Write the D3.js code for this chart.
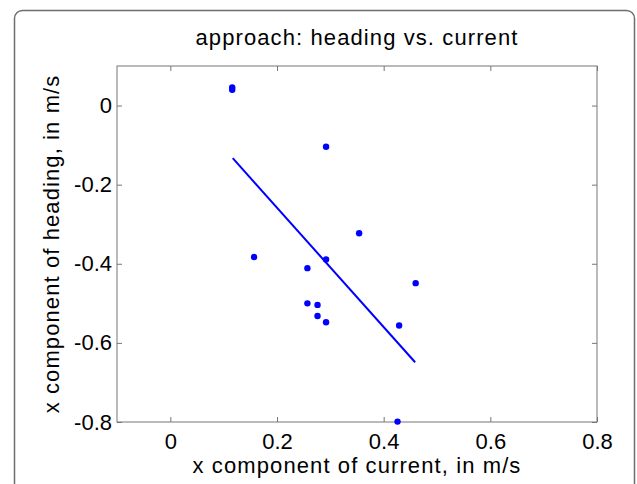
<!DOCTYPE html>
<html>
<head>
<meta charset="utf-8">
<script src="https://cdn.jsdelivr.net/npm/d3@7"></script>
<style>
  body { margin: 0; background: #fff; }
  svg { display: block; font-family: "Liberation Sans", Arial, sans-serif; }
  .label { font-size: 22px; letter-spacing: 1.1px; fill: #000; }
</style>
</head>
<body>
<svg id="chart" width="637" height="484"></svg>
<script>
// data
const currentX = [0.116, 0.116, 0.292, 0.157, 0.354, 0.292, 0.257, 0.460, 0.257, 0.276, 0.276, 0.292, 0.429, 0.426];
const headingX = [0.046, 0.040, -0.104, -0.383, -0.323, -0.389, -0.411, -0.449, -0.500, -0.504, -0.532, -0.548, -0.556, -0.799];
const fitX = [0.117, 0.459];
const fitY = [-0.133, -0.649];
const xTicks = [0, 0.2, 0.4, 0.6, 0.8];
const yTicks = [0, -0.2, -0.4, -0.6, -0.8];

const svg = d3.select('#chart');

const width = 637;
const height = 484;

const margin = { top: 66, right: 40, bottom: 62, left: 117 };
const chartWidth = width - margin.left - margin.right;
const chartHeight = height - margin.top - margin.bottom;

// outer frame (rounded, runs off the bottom)
svg.append('rect')
  .attr('x', 14.5)
  .attr('y', 10.5)
  .attr('width', 620)
  .attr('height', 500)
  .attr('rx', 8)
  .attr('fill', 'none')
  .attr('stroke', '#6e6e6e')
  .attr('stroke-width', 1.5);

const chart = svg.append('g')
  .attr('transform', `translate(${margin.left}, ${margin.top})`);

const x = d3.scaleLinear()
  .domain([-0.1, 0.8])
  .range([0, chartWidth]);

const y = d3.scaleLinear()
  .domain([-0.8, 0.1])
  .range([chartHeight, 0]);

// plain hyphen, like the original
const fmt = d => d === 0 ? '0' : d.toFixed(1);

function styleAxis(g, showText) {
  g.attr('font-family', null).attr('font-size', null);
  g.select('.domain').remove();
  g.selectAll('.tick line').attr('stroke', '#777').attr('stroke-width', 1);
  if (!showText) g.selectAll('.tick text').remove();
  else g.selectAll('.tick text')
    .attr('fill', '#000')
    .style('font-size', '22px');
}

// bottom / left axes with labels, inward ticks
chart.append('g')
  .attr('transform', `translate(0, ${chartHeight})`)
  .call(d3.axisBottom(x).tickValues(xTicks).tickFormat(fmt).tickSizeInner(-5).tickPadding(11))
  .call(g => styleAxis(g, true));

chart.append('g')
  .call(d3.axisLeft(y).tickValues(yTicks).tickFormat(fmt).tickSizeInner(-5).tickPadding(5))
  .call(g => styleAxis(g, true));

// top / right mirrored ticks
chart.append('g')
  .call(d3.axisTop(x).tickValues(xTicks).tickSizeInner(-5))
  .call(g => styleAxis(g, false));

chart.append('g')
  .attr('transform', `translate(${chartWidth}, 0)`)
  .call(d3.axisRight(y).tickValues(yTicks).tickSizeInner(-5))
  .call(g => styleAxis(g, false));

// box
chart.append('rect')
  .attr('width', chartWidth)
  .attr('height', chartHeight)
  .attr('fill', 'none')
  .attr('stroke', '#777')
  .attr('stroke-width', 1);

// fit line
chart.append('path')
  .datum(fitX.map((v, i) => [v, fitY[i]]))
  .attr('d', d3.line().x(d => x(d[0])).y(d => y(d[1])))
  .attr('fill', 'none')
  .attr('stroke', '#0000ff')
  .attr('stroke-width', 2);

// points
chart.selectAll('.dot')
  .data(currentX.map((v, i) => ({ cx: v, hy: headingX[i] })))
  .enter()
  .append('circle')
  .attr('class', 'dot')
  .attr('cx', d => x(d.cx))
  .attr('cy', d => y(d.hy))
  .attr('r', 3.2)
  .attr('fill', '#0000ff');

// title and axis labels
svg.append('text')
  .attr('class', 'label')
  .attr('x', margin.left + chartWidth / 2)
  .attr('y', 45)
  .attr('text-anchor', 'middle')
  .text('approach: heading vs. current');

svg.append('text')
  .attr('class', 'label')
  .attr('x', margin.left + chartWidth / 2)
  .attr('y', 473)
  .attr('text-anchor', 'middle')
  .text('x component of current, in m/s');

svg.append('text')
  .attr('class', 'label')
  .attr('transform', 'rotate(-90)')
  .attr('x', -(margin.top + chartHeight / 2))
  .attr('y', 59)
  .attr('text-anchor', 'middle')
  .text('x component of heading, in m/s');
</script>
</body>
</html>
